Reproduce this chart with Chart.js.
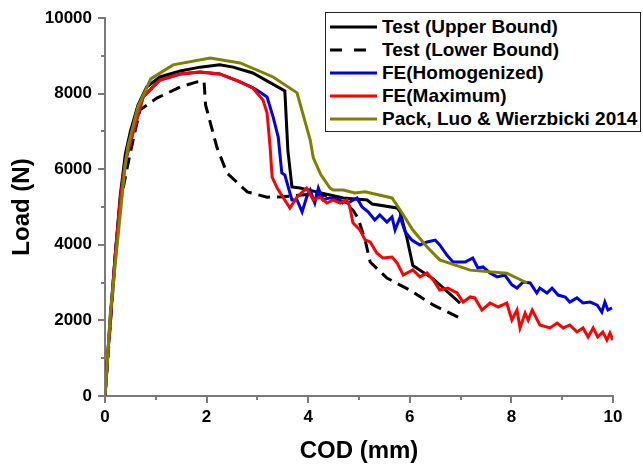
<!DOCTYPE html>
<html>
<head>
<meta charset="utf-8">
<script src="https://cdn.jsdelivr.net/npm/chart.js@4/dist/chart.umd.min.js"></script>
<style>
  html, body { margin: 0; padding: 0; background: #fff; }
  #wrap { position: relative; width: 643px; height: 466px; }
  #legend {
    position: absolute; left: 325px; top: 12px; width: 316px; height: 120px;
    box-sizing: border-box; border: 1px solid #222; background: #fff;
    font: bold 19px "Liberation Sans", Arial, sans-serif; color: #000;
    padding-top: 2px;
  }
  .row { height: 23.2px; display: flex; align-items: center; white-space: nowrap; }
  .row svg { margin: 0 5px 0 4px; flex: none; }
</style>
</head>
<body>
<div id="wrap">
  <canvas id="chart" width="643" height="466"></canvas>
  <div id="legend"></div>
</div>
<script>
// Load vs COD curves: [COD mm, Load N]
const seriesNames = ['Test (Upper Bound)', 'Test (Lower Bound)', 'FE(Homogenized)', 'FE(Maximum)', 'Pack, Luo & Wierzbicki 2014'];
const seriesColors = ['#000000', '#000000', '#0000e0', '#ff0000', '#808000'];

const upperBound = [[0,0],[0.05,1000],[0.1,2000],[0.2,3700],[0.3,5300],[0.4,6400],[0.5,7000],[0.65,7700],
  [0.82,8175],[1.08,8440],[1.48,8600],[1.87,8700],[2.26,8760],[2.52,8700],[2.91,8545],[3.54,8070],[3.6,6500],
  [3.68,5530],[3.84,5500],[4.23,5380],[4.69,5240],[5.16,5185],[5.26,5080],[5.75,4975],[5.81,4870],[5.94,4200],
  [6.06,3450],[6.46,3100],[6.99,2460]];

const lowerBound = [[0,0],[0.05,900],[0.1,1800],[0.2,3600],[0.3,5100],[0.43,6000],[0.59,7000],[0.69,7570],
  [1.02,7880],[1.48,8175],[1.81,8310],[1.95,8320],[1.98,7700],[2.2,6590],[2.4,5900],[2.8,5400],[3.19,5260],
  [3.5,5270],[4.0,5330],[4.5,5280],[4.88,4920],[4.98,4710],[5.12,4130],[5.22,3545],[5.55,3120],[6.0,2800],
  [6.46,2410],[6.99,2060]];

const feHomogenized = [[0,0],[0.05,1000],[0.1,1900],[0.2,3700],[0.3,5200],[0.4,6200],[0.55,6960],[0.75,7910],
  [1.08,8360],[1.48,8520],[1.87,8570],[2.26,8520],[2.66,8310],[2.91,8150],[2.99,8095],[3.19,7910],[3.31,7380],
  [3.41,6850],[3.48,5900],[3.54,5850],[3.64,5370],[3.68,5185],[3.78,5185],[3.88,4870],[3.97,5265],[4.04,5450],
  [4.13,5105],[4.2,5500],[4.29,5185],[4.43,5240],[4.59,5185],[4.78,5105],[4.96,5240],[5.06,5000],[5.18,4870],
  [5.31,4655],[5.41,4790],[5.55,4600],[5.65,4735],[5.71,4390],[5.81,4735],[5.91,4340],[6.04,4125],[6.2,3995],
  [6.34,4075],[6.5,4125],[6.59,3995],[6.73,3730],[6.85,3545],[7.09,3545],[7.24,3650],[7.34,3385],[7.44,3415],
  [7.58,3255],[7.72,3150],[7.87,3200],[8.01,2940],[8.11,2855],[8.23,3015],[8.37,2990],[8.5,2725],[8.56,2855],
  [8.7,2725],[8.8,2855],[8.92,2670],[9.06,2620],[9.15,2485],[9.29,2595],[9.41,2460],[9.55,2485],[9.69,2405],
  [9.78,2220],[9.84,2485],[9.9,2275],[9.98,2330]];

const feMaximum = [[0,0],[0.05,1000],[0.1,1900],[0.2,3700],[0.3,5200],[0.4,6200],[0.55,6960],[0.75,7910],
  [1.08,8360],[1.48,8520],[1.87,8570],[2.26,8520],[2.66,8310],[2.91,8150],[3.11,7830],[3.19,7490],[3.25,6590],
  [3.29,5790],[3.39,5500],[3.5,5265],[3.64,4975],[3.78,5265],[3.97,5500],[4.1,5185],[4.23,5265],[4.37,5105],
  [4.49,5185],[4.63,5105],[4.76,5185],[4.82,5000],[4.88,4580],[5.02,4390],[5.12,4130],[5.22,4075],[5.35,3785],
  [5.47,3650],[5.65,3675],[5.75,3520],[5.87,3200],[6.06,3335],[6.2,3150],[6.34,3255],[6.46,3070],[6.59,2805],
  [6.75,2855],[6.93,2725],[7.05,2485],[7.19,2620],[7.28,2595],[7.42,2275],[7.58,2460],[7.74,2355],[7.91,2460],
  [8.01,2010],[8.11,2275],[8.17,1800],[8.27,2195],[8.33,2010],[8.41,2275],[8.56,1880],[8.76,1800],[8.9,1930],
  [9.02,1800],[9.15,1880],[9.29,1695],[9.41,1800],[9.51,1560],[9.61,1800],[9.7,1560],[9.8,1695],[9.88,1480],
  [9.94,1665],[10.0,1480]];

const packLuo = [[0,0],[0.05,1000],[0.1,2100],[0.24,4000],[0.39,6000],[0.45,6600],[0.65,7650],[0.9,8390],
  [1.34,8760],[2.07,8940],[2.66,8810],[3.31,8440],[3.78,8020],[4.04,6770],[4.1,6300],[4.25,5850],[4.43,5500],
  [4.49,5450],[4.69,5450],[4.92,5370],[5.12,5400],[5.65,5240],[5.81,4920],[6.06,4390],[6.34,3940],[6.59,3600],
  [7.19,3330],[7.91,3250],[8.31,2990]];

const xTicks = [0, 2, 4, 6, 8, 10];
const yTicks = [0, 2000, 4000, 6000, 8000, 10000];

const FONT = '"Liberation Sans", Arial, sans-serif';
const AXIS_GRAY = '#7a7a7a';
const MINOR_LEN = 4;
const toXY = (pts) => pts.map(p => ({ x: p[0], y: p[1] }));

const allSeries = [upperBound, lowerBound, feHomogenized, feMaximum, packLuo];
const dashes = [[], [12, 7], [], [], []];
const drawOrder = [4, 3, 2, 1, 0]; // olive on top, then red, blue...

const datasets = allSeries.map((pts, i) => ({
  label: seriesNames[i],
  data: toXY(pts),
  borderColor: seriesColors[i],
  borderWidth: 3,
  borderDash: dashes[i],
  pointRadius: 0,
  showLine: true,
  tension: 0,
  fill: false,
  order: drawOrder[i],
}));

function axisCommon(labelSet) {
  return {
    type: 'linear',
    border: { display: true, color: AXIS_GRAY, width: 2 },
    grid: {
      drawOnChartArea: false, drawTicks: true, tickLength: 7, lineWidth: 2,
      // only labelled (major) ticks are drawn by the axis; minor ones come from the plugin below
      tickColor: (ctx) => (ctx.tick && labelSet.includes(ctx.tick.value)) ? AXIS_GRAY : 'rgba(0,0,0,0)',
      color: AXIS_GRAY,
    },
    ticks: {
      color: '#000',
      font: { family: FONT, size: 17, weight: 'bold' },
      autoSkip: false,
      maxRotation: 0,
      callback: (v) => labelSet.includes(v) ? String(v) : '',
    },
  };
}

const xAxis = axisCommon(xTicks);
xAxis.min = 0; xAxis.max = 10;
xAxis.ticks.stepSize = 1;
xAxis.ticks.padding = 4;
xAxis.title = { display: true, text: 'COD (mm)', color: '#000', font: { family: FONT, size: 24, weight: 'bold' }, padding: { top: 0, bottom: 0 } };
xAxis.afterFit = (s) => { s.height = 70; };

const yAxis = axisCommon(yTicks);
yAxis.min = 0; yAxis.max = 10000;
yAxis.ticks.stepSize = 1000;
yAxis.ticks.padding = 6;
yAxis.title = { display: true, text: 'Load (N)', color: '#000', font: { family: FONT, size: 24, weight: 'bold' }, padding: { top: 8, bottom: 0 } };
yAxis.afterFit = (s) => { s.width = 105; };

const minorTicks = {
  id: 'minorTicks',
  afterDraw(chart) {
    const { ctx, chartArea, scales } = chart;
    ctx.save();
    ctx.strokeStyle = AXIS_GRAY;
    ctx.lineWidth = 2;
    ctx.beginPath();
    scales.x.ticks.forEach(t => {
      if (xTicks.includes(t.value)) return;
      const px = Math.round(scales.x.getPixelForValue(t.value));
      ctx.moveTo(px, chartArea.bottom);
      ctx.lineTo(px, chartArea.bottom + MINOR_LEN);
    });
    scales.y.ticks.forEach(t => {
      if (yTicks.includes(t.value)) return;
      const py = Math.round(scales.y.getPixelForValue(t.value));
      ctx.moveTo(chartArea.left, py);
      ctx.lineTo(chartArea.left - MINOR_LEN, py);
    });
    ctx.stroke();
    ctx.restore();
  },
};

new Chart(document.getElementById('chart'), {
  type: 'scatter',
  data: { datasets },
  options: {
    responsive: false,
    devicePixelRatio: 1,
    animation: false,
    layout: { padding: { left: 0, right: 30, top: 18, bottom: 0 } },
    plugins: { legend: { display: false }, tooltip: { enabled: false } },
    scales: { x: xAxis, y: yAxis },
  },
  plugins: [minorTicks],
});

// legend box built from the same series styles
const legend = document.getElementById('legend');
seriesNames.forEach((name, i) => {
  const row = document.createElement('div');
  row.className = 'row';
  const dash = dashes[i].length ? 'stroke-dasharray="12 12"' : '';
  row.innerHTML = `<svg width="47" height="6"><line x1="0" y1="3" x2="47" y2="3" stroke="${seriesColors[i]}" stroke-width="3" ${dash}/></svg><span>${name.replace('&', '&amp;')}</span>`;
  legend.appendChild(row);
});
</script>
</body>
</html>
